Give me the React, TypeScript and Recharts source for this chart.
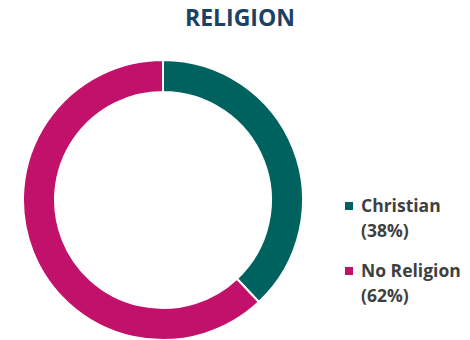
import { PieChart, Pie, Cell, Legend } from 'recharts';

const religions = ['Christian', 'No Religion'];
const shares = [38, 62];
const sliceColors = ['#00625E', '#C2116A'];

const data = religions.map((name, i) => ({ name, value: shares[i] }));

const renderLegend = (props: any) => {
  const { payload } = props;
  return (
    <div>
      {payload.map((entry: any, i: number) => (
        <div key={entry.value} style={{ display: 'flex', alignItems: 'flex-start', marginBottom: 15 }}>
          <div style={{ width: 8, height: 8, background: sliceColors[i], marginTop: 9, marginRight: 8 }} />
          <div style={{ fontSize: 17.5, lineHeight: '25px', fontWeight: 700, color: '#3F3F3F' }}>
            <div>{entry.value}</div>
            <div>({shares[i]}%)</div>
          </div>
        </div>
      ))}
    </div>
  );
};

export default function App() {
  return (
    <div style={{ position: 'fixed', top: 0, left: 0, width: 470, height: 340, background: '#fff', fontFamily: '"Open Sans", sans-serif' }}>
      <div style={{ position: 'absolute', top: 1, left: 5, width: 470, textAlign: 'center', fontSize: 23, fontWeight: 700, color: '#1B4262' }}>
        RELIGION
      </div>
      <PieChart width={470} height={340} style={{ position: 'absolute', top: 0, left: 0 }}>
        <Pie
          data={data}
          dataKey="value"
          nameKey="name"
          cx={158}
          cy={195}
          innerRadius={108}
          outerRadius={140}
          startAngle={90}
          endAngle={-270}
          stroke="#ffffff"
          strokeWidth={2}
          isAnimationActive={false}
        >
          {data.map((d, i) => (
            <Cell key={d.name} fill={sliceColors[i]} />
          ))}
        </Pie>
        <Legend
          content={renderLegend}
          layout="vertical"
          wrapperStyle={{ position: 'absolute', left: 345, top: 193, width: 125 }}
        />
      </PieChart>
    </div>
  );
}
